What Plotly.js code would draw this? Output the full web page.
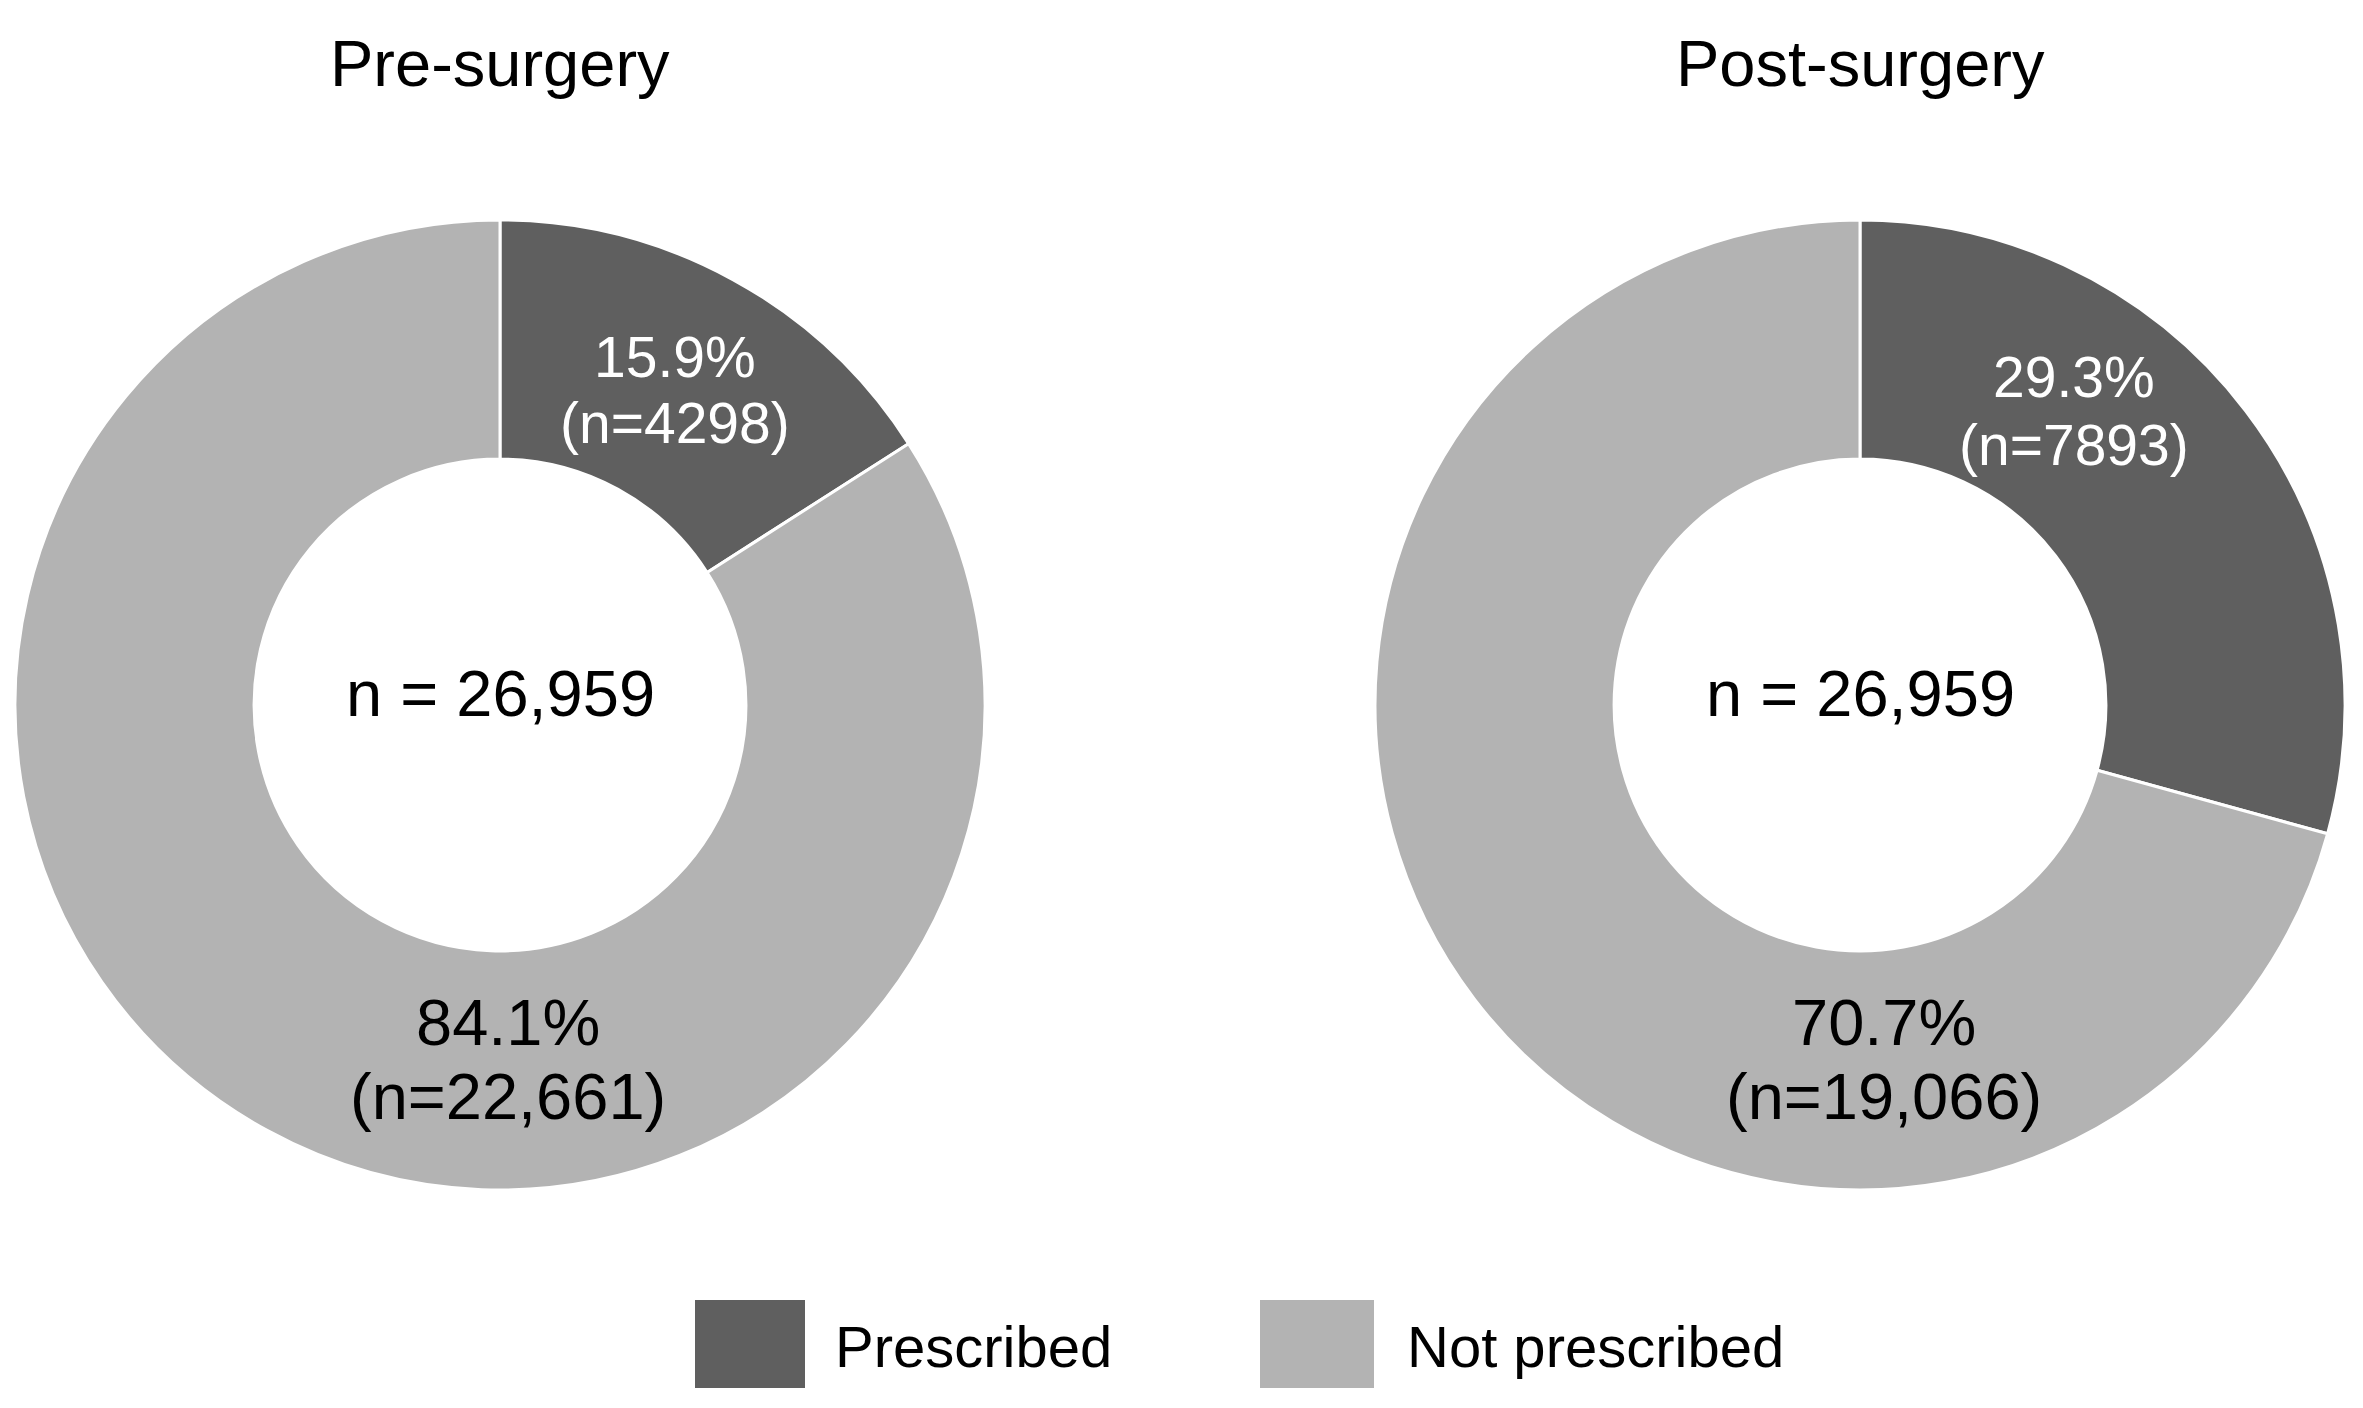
<!DOCTYPE html>
<html>
<head>
<meta charset="utf-8">
<script src="https://cdn.plot.ly/plotly-3.0.1.min.js"></script>
<style>html,body{margin:0;padding:0;background:#fff;}#chart{width:2363px;height:1408px;}</style>
</head>
<body>
<div id="chart"></div>
<script>
// ---- data ----
const categories = ["Prescribed", "Not prescribed"];
const panelTitles = ["Pre-surgery", "Post-surgery"];
const preValues = [4298, 22661];
const postValues = [7893, 19066];
const totalLabel = "n = 26,959";
const sliceColors = ["#5f5f5f", "#b3b3b3"];

// ---- layout helpers (pixels -> paper) ----
const W = 2363, H = 1408;
const px = x => x / W;
const py = y => 1 - y / H;
const FONT = "Liberation Sans, Arial, Helvetica, sans-serif";

function fmtN(v) {
  return v >= 10000 ? v.toLocaleString("en-US") : String(v);
}
function pct(v, arr) {
  const t = arr.reduce((a, b) => a + b, 0);
  return (v / t * 100).toFixed(1) + "%";
}

const R = 485;
const centers = [[500, 705], [1860, 705]];
const series = [preValues, postValues];

const traces = series.map((vals, i) => ({
  type: "pie",
  labels: categories,
  values: vals,
  sort: false,
  direction: "clockwise",
  rotation: 0,
  hole: 0.507,
  textinfo: "none",
  hoverinfo: "label+value+percent",
  showlegend: false,
  marker: { colors: sliceColors, line: { color: "#ffffff", width: 3 } },
  domain: {
    x: [px(centers[i][0] - R), px(centers[i][0] + R)],
    y: [py(centers[i][1] + R), py(centers[i][1] - R)]
  }
}));

// label positions (pixels) for [prescribed, not prescribed] per panel
const labelPos = [
  [[675, 357, 423], [508, 1022, 1096]],
  [[2074, 377, 445], [1884, 1022, 1096]]
];
const labelFonts = [
  { size: 57, color: "#ffffff" },
  { size: 65, color: "#000000" }
];

const annotations = [];
series.forEach((vals, i) => {
  // panel title
  annotations.push({
    xref: "paper", yref: "paper", x: px(centers[i][0]), y: py(63),
    xanchor: "center", yanchor: "middle", showarrow: false,
    text: panelTitles[i], font: { family: FONT, size: 65, color: "#000" }
  });
  // center total
  annotations.push({
    xref: "paper", yref: "paper", x: px(centers[i][0]), y: py(693),
    xanchor: "center", yanchor: "middle", showarrow: false,
    text: totalLabel, font: { family: FONT, size: 65, color: "#000" }
  });
  vals.forEach((v, k) => {
    const [lx, ly1, ly2] = labelPos[i][k];
    annotations.push({
      xref: "paper", yref: "paper", x: px(lx), y: py(ly1),
      xanchor: "center", yanchor: "middle", showarrow: false,
      text: pct(v, vals), font: Object.assign({ family: FONT }, labelFonts[k])
    });
    annotations.push({
      xref: "paper", yref: "paper", x: px(lx), y: py(ly2),
      xanchor: "center", yanchor: "middle", showarrow: false,
      text: "(n=" + fmtN(v) + ")", font: Object.assign({ family: FONT }, labelFonts[k])
    });
  });
});

// custom legend
const legendBoxes = [[695, 805], [1260, 1374]];
const legendTextX = [833, 1405];
const shapes = [];
categories.forEach((c, k) => {
  shapes.push({
    type: "rect", xref: "paper", yref: "paper",
    x0: px(legendBoxes[k][0]), x1: px(legendBoxes[k][1]),
    y0: py(1388), y1: py(1300),
    fillcolor: sliceColors[k], line: { width: 0 }
  });
  annotations.push({
    xref: "paper", yref: "paper", x: px(legendTextX[k]), y: py(1346),
    xanchor: "left", yanchor: "middle", showarrow: false,
    text: c, font: { family: FONT, size: 58, color: "#000" }
  });
});

const layout = {
  width: W, height: H,
  margin: { l: 0, r: 0, t: 0, b: 0 },
  paper_bgcolor: "#ffffff",
  plot_bgcolor: "#ffffff",
  showlegend: false,
  annotations: annotations,
  shapes: shapes
};

Plotly.newPlot("chart", traces, layout, { displayModeBar: false, staticPlot: true });
</script>
</body>
</html>
